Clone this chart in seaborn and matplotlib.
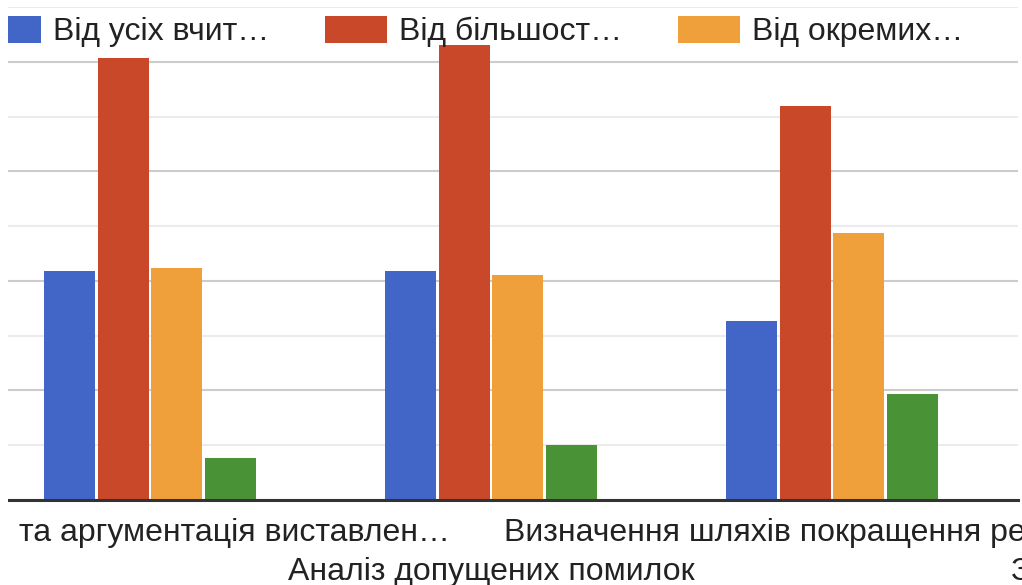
import pandas as pd
import matplotlib.pyplot as plt
import seaborn as sns
from matplotlib.patches import Patch, Rectangle
from matplotlib.transforms import blended_transform_factory

# Data (one minor gridline = 5 units)
categories = ["та аргументація виставлен…", "Аналіз допущених помилок",
              "Визначення шляхів покращення ре…", "З…"]
series = ["Від усіх вчит…", "Від більшост…", "Від окремих…", "Від жодного…"]
vals_all = [20.9, 20.9, 16.3]
vals_most = [40.3, 41.5, 36.0]
vals_some = [21.2, 20.5, 24.4]
vals_none = [3.8, 5.0, 9.7]
colors = ["#4166c8", "#c9482a", "#f0a03b", "#4a9236"]

rows = []
for name, vals in zip(series, [vals_all, vals_most, vals_some, vals_none]):
    for cat, v in zip(categories, vals):
        rows.append({"cat": cat, "series": name, "value": v})
df = pd.DataFrame(rows)

sns.set_style("white")
plt.rcParams['font.family'] = ['Liberation Sans', 'DejaVu Sans']

W, H = 1022, 585
fig = plt.figure(figsize=(W / 100, H / 100), dpi=100)
ax = fig.add_axes([8 / W, 85 / H, 1010 / W, 493 / H])

sns.barplot(data=df, x="cat", y="value", hue="series", order=categories,
            hue_order=series, palette=colors, saturation=1, width=0.63,
            gap=0.05, linewidth=0, legend=False, ax=ax)

# axes / grid
ax.set_xlim(-0.4164, 2.545)
ax.set_ylim(0, 45)
ax.set_yticks([0, 10, 20, 30, 40])
ax.set_yticks([5, 15, 25, 35, 45], minor=True)
ax.set_axisbelow(True)
ax.grid(axis="y", which="major", color="#cccccc", lw=1.5)
ax.grid(axis="y", which="minor", color="#ebebeb", lw=1.5)
ax.tick_params(which="both", length=0, labelleft=False, labelbottom=False)
ax.set_xlabel("")
ax.set_ylabel("")
for s in ["left", "right", "top"]:
    ax.spines[s].set_visible(False)
ax.spines["bottom"].set_color("#333333")
ax.spines["bottom"].set_linewidth(2.2)

# staggered category labels
trans = blended_transform_factory(ax.transData, ax.transAxes)
label_ha = ["right", "center", "left", "left"]
label_dx = [300, 0, -328, -162]
label_row = [0, 1, 0, 1]
for i, txt in enumerate(categories):
    ax.annotate(txt, xy=(i, 0), xycoords=trans,
                xytext=(label_dx[i], -41 - 39 * label_row[i]),
                textcoords="offset pixels", ha=label_ha[i], va="baseline",
                fontsize=23, color="#222222", annotation_clip=False)

# legend (only first three entries visible)
handles = [Patch(facecolor=c, edgecolor="none", label=s)
           for c, s in zip(colors[:3], series[:3])]
fs = 23
em = fs * 100 / 72
fig.legend(handles=handles, loc="center left",
           bbox_to_anchor=(-21 / W, 1 - 31.5 / H), ncol=3, frameon=False,
           fontsize=fs, handlelength=62 / em, handleheight=29 / em,
           handletextpad=12 / em, columnspacing=56 / em,
           borderpad=0, borderaxespad=0, labelcolor="#222222")

fig.patches.append(Rectangle((0, 0), 8 / W, 1, transform=fig.transFigure,
                             facecolor="white", edgecolor="none", zorder=10))

fig.savefig("out.png", dpi=100)
